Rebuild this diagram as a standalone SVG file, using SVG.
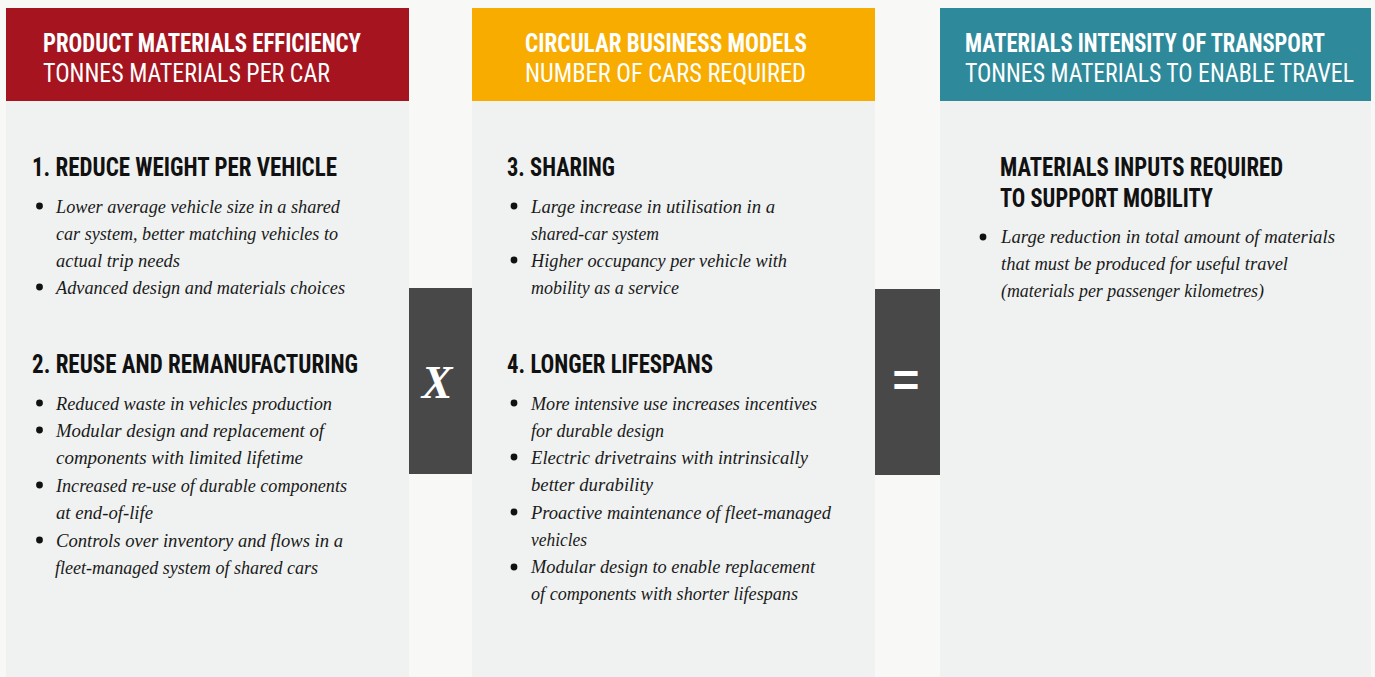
<svg xmlns="http://www.w3.org/2000/svg" width="1375" height="677" viewBox="0 0 1375 677">
<style>
.panel{fill:#F0F2F1}
.op{fill:#484848}
.h1{font-family:"Liberation Sans Narrow","Roboto Condensed","Liberation Sans",sans-serif;font-weight:bold;font-size:25px;fill:#ffffff}
.h2{font-family:"Liberation Sans Narrow","Roboto Condensed","Liberation Sans",sans-serif;font-weight:normal;font-size:25px;fill:#ffffff}
.sec{font-family:"Liberation Sans Narrow","Roboto Condensed","Liberation Sans",sans-serif;font-weight:bold;font-size:25px;fill:#111111}
.b{font-family:"Liberation Serif","DejaVu Serif",serif;font-style:italic;font-size:19px;fill:#1a1a1a}
.dot{fill:#111111}
.sym{font-family:"Liberation Serif",serif;font-style:italic;font-weight:bold;font-size:46px;fill:#ffffff}
.eq{font-family:"Liberation Sans",sans-serif;font-weight:bold;font-size:46px;fill:#ffffff}
</style>
<rect x="0" y="0" width="1375" height="677" fill="#F8F8F6"/>

<g id="col-product-materials">
<rect class="panel" x="6" y="101" width="403" height="576"/>
<rect x="6" y="8" width="403" height="93" fill="#A5141F"/>
<text class="h1" x="43" y="52" textLength="318" lengthAdjust="spacingAndGlyphs">PRODUCT MATERIALS EFFICIENCY</text>
<text class="h2" x="43" y="82" textLength="287" lengthAdjust="spacingAndGlyphs">TONNES MATERIALS PER CAR</text>
<text class="sec" x="32" y="176" textLength="305" lengthAdjust="spacingAndGlyphs">1. REDUCE WEIGHT PER VEHICLE</text>
<circle class="dot" cx="39.5" cy="206" r="3.4"/>
<text class="b" x="56" y="213" textLength="284" lengthAdjust="spacingAndGlyphs">Lower average vehicle size in a shared</text>
<text class="b" x="56" y="240" textLength="282" lengthAdjust="spacingAndGlyphs">car system, better matching vehicles to</text>
<text class="b" x="56" y="267" textLength="124" lengthAdjust="spacingAndGlyphs">actual trip needs</text>
<circle class="dot" cx="39.5" cy="287" r="3.4"/>
<text class="b" x="56" y="294" textLength="289" lengthAdjust="spacingAndGlyphs">Advanced design and materials choices</text>
<text class="sec" x="32" y="373" textLength="326" lengthAdjust="spacingAndGlyphs">2. REUSE AND REMANUFACTURING</text>
<circle class="dot" cx="39.5" cy="403" r="3.4"/>
<text class="b" x="56" y="410" textLength="276" lengthAdjust="spacingAndGlyphs">Reduced waste in vehicles production</text>
<circle class="dot" cx="39.5" cy="430" r="3.4"/>
<text class="b" x="56" y="437" textLength="268" lengthAdjust="spacingAndGlyphs">Modular design and replacement of</text>
<text class="b" x="56" y="464" textLength="247" lengthAdjust="spacingAndGlyphs">components with limited lifetime</text>
<circle class="dot" cx="39.5" cy="485" r="3.4"/>
<text class="b" x="56" y="492" textLength="291" lengthAdjust="spacingAndGlyphs">Increased re-use of durable components</text>
<text class="b" x="56" y="519" textLength="97" lengthAdjust="spacingAndGlyphs">at end-of-life</text>
<circle class="dot" cx="39.5" cy="540" r="3.4"/>
<text class="b" x="56" y="547" textLength="287" lengthAdjust="spacingAndGlyphs">Controls over inventory and flows in a</text>
<text class="b" x="55" y="574" textLength="263" lengthAdjust="spacingAndGlyphs">fleet-managed system of shared cars</text>
</g>

<g id="op-multiply">
<rect class="op" x="409" y="288" width="63" height="186"/>
<text class="sym" x="437" y="398" text-anchor="middle">X</text>
</g>

<g id="col-circular-business">
<rect class="panel" x="472" y="101" width="403" height="576"/>
<rect x="472" y="8" width="403" height="93" fill="#F8AC00"/>
<text class="h1" x="525" y="52" textLength="282" lengthAdjust="spacingAndGlyphs">CIRCULAR BUSINESS MODELS</text>
<text class="h2" x="525" y="82" textLength="281" lengthAdjust="spacingAndGlyphs">NUMBER OF CARS REQUIRED</text>
<text class="sec" x="507" y="176" textLength="108" lengthAdjust="spacingAndGlyphs">3. SHARING</text>
<circle class="dot" cx="514" cy="206" r="3.4"/>
<text class="b" x="531" y="213" textLength="244" lengthAdjust="spacingAndGlyphs">Large increase in utilisation in a</text>
<text class="b" x="531" y="240" textLength="128" lengthAdjust="spacingAndGlyphs">shared-car system</text>
<circle class="dot" cx="514" cy="260" r="3.4"/>
<text class="b" x="531" y="267" textLength="256" lengthAdjust="spacingAndGlyphs">Higher occupancy per vehicle with</text>
<text class="b" x="531" y="294" textLength="148" lengthAdjust="spacingAndGlyphs">mobility as a service</text>
<text class="sec" x="507" y="373" textLength="206" lengthAdjust="spacingAndGlyphs">4. LONGER LIFESPANS</text>
<circle class="dot" cx="514" cy="403" r="3.4"/>
<text class="b" x="531" y="410" textLength="286" lengthAdjust="spacingAndGlyphs">More intensive use increases incentives</text>
<text class="b" x="531" y="437" textLength="133" lengthAdjust="spacingAndGlyphs">for durable design</text>
<circle class="dot" cx="514" cy="457" r="3.4"/>
<text class="b" x="531" y="464" textLength="277" lengthAdjust="spacingAndGlyphs">Electric drivetrains with intrinsically</text>
<text class="b" x="531" y="491" textLength="122" lengthAdjust="spacingAndGlyphs">better durability</text>
<circle class="dot" cx="514" cy="512" r="3.4"/>
<text class="b" x="531" y="519" textLength="300" lengthAdjust="spacingAndGlyphs">Proactive maintenance of fleet-managed</text>
<text class="b" x="531" y="546" textLength="56" lengthAdjust="spacingAndGlyphs">vehicles</text>
<circle class="dot" cx="514" cy="567" r="3.4"/>
<text class="b" x="531" y="573" textLength="284" lengthAdjust="spacingAndGlyphs">Modular design to enable replacement</text>
<text class="b" x="531" y="600" textLength="267" lengthAdjust="spacingAndGlyphs">of components with shorter lifespans</text>
</g>

<g id="op-equals">
<rect class="op" x="875" y="289" width="65" height="186"/>
<text class="eq" x="906" y="396" text-anchor="middle">=</text>
</g>

<g id="col-materials-intensity">
<rect class="panel" x="940" y="101" width="431" height="576"/>
<rect x="940" y="8" width="431" height="93" fill="#2E8A9B"/>
<text class="h1" x="965" y="52" textLength="360" lengthAdjust="spacingAndGlyphs">MATERIALS INTENSITY OF TRANSPORT</text>
<text class="h2" x="965" y="82" textLength="389" lengthAdjust="spacingAndGlyphs">TONNES MATERIALS TO ENABLE TRAVEL</text>
<text class="sec" x="1000" y="176" textLength="283" lengthAdjust="spacingAndGlyphs">MATERIALS INPUTS REQUIRED</text>
<text class="sec" x="1000" y="207" textLength="213" lengthAdjust="spacingAndGlyphs">TO SUPPORT MOBILITY</text>
<circle class="dot" cx="983" cy="237" r="3.4"/>
<text class="b" x="1001" y="243" textLength="334" lengthAdjust="spacingAndGlyphs">Large reduction in total amount of materials</text>
<text class="b" x="1001" y="270" textLength="287" lengthAdjust="spacingAndGlyphs">that must be produced for useful travel</text>
<text class="b" x="1001" y="297" textLength="263" lengthAdjust="spacingAndGlyphs">(materials per passenger kilometres)</text>
</g>
</svg>
